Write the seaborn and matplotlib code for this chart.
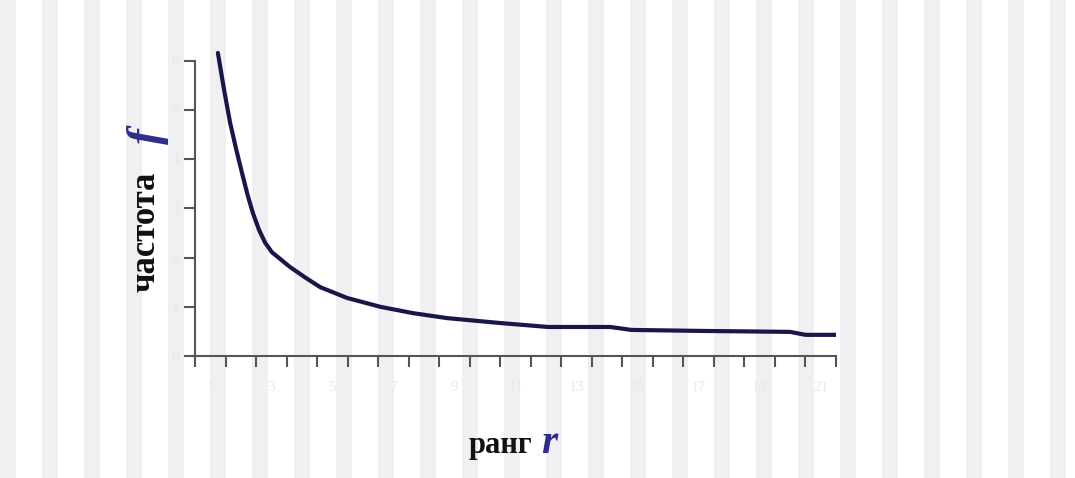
import matplotlib
matplotlib.use("Agg")
import matplotlib.pyplot as plt
import numpy as np
import pandas as pd
import seaborn as sns

# rank (in axis tick units) and frequency (in y tick units)
rank = [0.75, 0.95, 1.15, 1.35, 1.54, 1.72, 1.9, 2.1, 2.3, 2.52, 3.11, 3.6, 4.1,
        4.98, 6.07, 7.15, 8.26, 10.0, 11.57, 13.6, 14.3, 16.56, 19.5, 20.0, 21.0]
freq = [6.16, 5.42, 4.74, 4.2, 3.72, 3.28, 2.9, 2.56, 2.3, 2.11, 1.81, 1.6, 1.40,
        1.18, 1.0, 0.87, 0.77, 0.67, 0.59, 0.59, 0.53, 0.51, 0.49, 0.43, 0.43]
x_tick_labels = ["1", "3", "5", "7", "9", "11", "13", "15", "17", "19", "21"]
y_tick_labels = ["0", "1", "2", "3", "4", "5", "6"]

frame = pd.DataFrame({"rank": rank, "freq": freq})

sns.set_style("white")
plt.rcParams["font.family"] = ["Liberation Serif", "DejaVu Serif"]

width_px, height_px = 1075, 478
figure = plt.figure(figsize=(width_px / 100, height_px / 100), dpi=100)

# faint striped slide background
background = figure.add_axes([0, 0, 1, 1])
background.set_xlim(0, width_px)
background.set_ylim(0, height_px)
for left in range(0, width_px, 42):
    background.axvspan(left, left + 16, color="#f0f0f2", lw=0)
background.set_facecolor("#f8f8f9")
background.axis("off")

axis = figure.add_axes([195 / width_px, 122 / height_px, 641 / width_px, 306 / height_px])
axis.set_facecolor("none")
sns.lineplot(data=frame, x="rank", y="freq", color="#17174a", linewidth=3, ax=axis)

axis.set_xlim(0, 21)
axis.set_ylim(0, 306 / 49.2)
for side in ["top", "right"]:
    axis.spines[side].set_visible(False)
for side in ["left", "bottom"]:
    axis.spines[side].set_color("#555555")
    axis.spines[side].set_linewidth(1.5)
axis.spines["left"].set_bounds(0, 6)

axis.set_xticks(np.arange(0, 22))
axis.set_xticklabels([])
axis.set_xticks(np.arange(0.5, 21, 2), minor=True)
axis.set_xticklabels(x_tick_labels, minor=True)
axis.set_yticks(np.arange(0, 7))
axis.set_yticklabels(y_tick_labels)
axis.tick_params(axis="both", which="major", direction="out", length=8,
                 width=1.5, color="#555555", labelcolor="#e8e8e8", labelsize=11,
                 bottom=True, left=True)
axis.tick_params(axis="x", which="minor", length=0, pad=18, bottom=True,
                 labelcolor="#e8e8e8", labelsize=11)

axis.set_xlabel("")
axis.set_ylabel("")
figure.text(500, height_px - 446, "ранг", transform=None, ha="center", va="center",
            fontsize=22, fontweight="bold", color="#111111")
figure.text(541, height_px - 443, "r", transform=None, ha="left", va="center",
            fontsize=30, fontweight="bold", style="italic", color="#2e2e8a")
figure.text(146, height_px - 232, "частота", transform=None, ha="center", va="center",
            rotation=90, fontsize=25, fontweight="bold", color="#111111")
figure.text(148, height_px - 136, "f", transform=None, ha="center", va="center",
            rotation=90, fontsize=34, fontweight="bold", style="italic", color="#2e2e8a")

figure.savefig("out.png", dpi=100)
plt.close(figure)
